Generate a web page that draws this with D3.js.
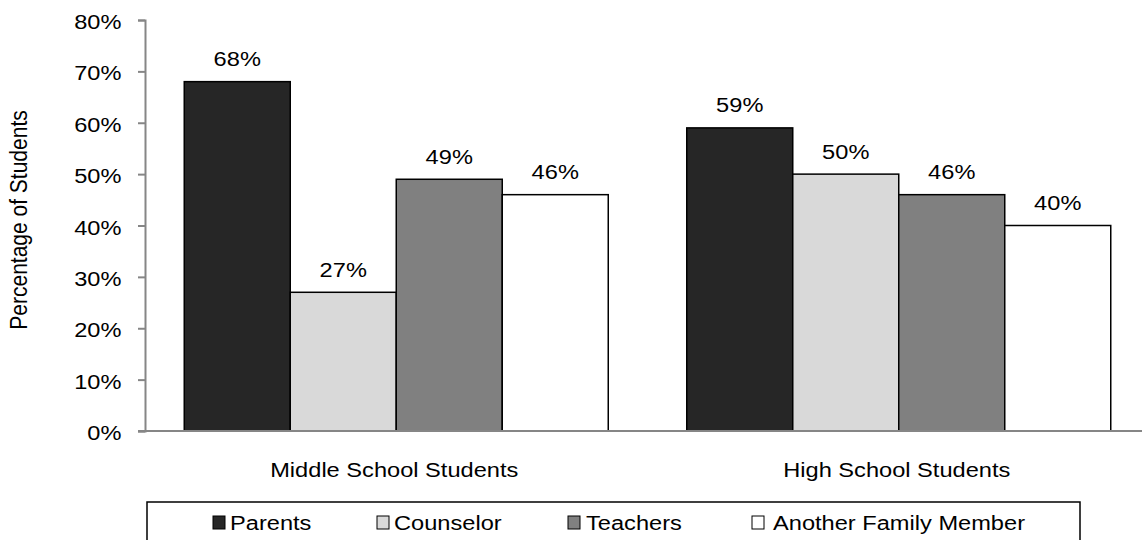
<!DOCTYPE html>
<html>
<head>
<meta charset="utf-8">
<script src="https://cdn.jsdelivr.net/npm/d3@7/dist/d3.min.js"></script>
<style>
  html, body { margin: 0; padding: 0; background: #fff; }
  svg text { font-family: "Liberation Sans", Arial, sans-serif; fill: #000; }
</style>
</head>
<body>
<svg id="chart" width="1142" height="540"></svg>
<script>
// Who students talk to, by school level (percent)
const groups = ["Middle School Students", "High School Students"];
const seriesNames = ["Parents", "Counselor", "Teachers", "Another Family Member"];
const seriesColors = ["#262626", "#d9d9d9", "#808080", "#ffffff"];
const parents = [68, 59];
const counselor = [27, 50];
const teachers = [49, 46];
const anotherFamily = [46, 40];
const yTicks = [0, 10, 20, 30, 40, 50, 60, 70, 80];

const seriesValues = [parents, counselor, teachers, anotherFamily];

const svg = d3.select("#chart");
const plotLeft = 145, plotRight = 1150, plotTop = 20, plotBottom = 431;
const fontSize = 21;
const widen = 1.125; // text is set slightly wide

const y = d3.scaleLinear().domain([0, 80]).range([plotBottom, plotTop]);
const x0 = d3.scaleBand().domain(groups).range([plotLeft, plotRight]).paddingInner(0).paddingOuter(0);
const barW = 106;
const x1 = d3.scaleBand().domain(seriesNames)
  .range([0, barW * seriesNames.length]);

const groupOffset = (x0.bandwidth() - barW * seriesNames.length) / 2;

// text helper: places a widened label anchored at (x, y)
function label(parent, x, yy, txt, anchor) {
  return parent.append("text")
    .attr("transform", `translate(${x},${yy}) scale(${widen},1)`)
    .attr("text-anchor", anchor || "start")
    .attr("font-size", fontSize)
    .text(txt);
}

// bars with value labels
const g = svg.append("g");
groups.forEach((grp, gi) => {
  seriesNames.forEach((s, si) => {
    const v = seriesValues[si][gi];
    const bx = x0(grp) + groupOffset + x1(s);
    g.append("rect")
      .attr("x", bx)
      .attr("y", y(v))
      .attr("width", x1.bandwidth())
      .attr("height", y(0) - y(v))
      .attr("fill", seriesColors[si])
      .attr("stroke", "#000")
      .attr("stroke-width", 1.5);
    label(g, bx + x1.bandwidth() / 2, y(v) - 15.5, v + "%", "middle");
  });
});

// y axis
const yAxis = d3.axisLeft(y).tickValues(yTicks).tickFormat(d => d + "%").tickSize(7).tickPadding(8);
const ya = svg.append("g").attr("transform", `translate(${plotLeft},0)`).call(yAxis);
ya.select(".domain").attr("stroke", "#868686").attr("stroke-width", 2);
ya.selectAll(".tick line").attr("stroke", "#868686").attr("stroke-width", 2);
ya.selectAll(".tick text")
  .attr("font-size", fontSize)
  .attr("x", null).attr("dy", null)
  .attr("transform", `translate(-23.5,8.5) scale(${widen},1)`)
  .style("font-family", "Liberation Sans, Arial, sans-serif");

// x axis baseline
svg.append("line")
  .attr("x1", plotLeft - 7).attr("x2", plotRight)
  .attr("y1", y(0)).attr("y2", y(0))
  .attr("stroke", "#868686").attr("stroke-width", 2);

// category labels
groups.forEach(grp => {
  label(svg, x0(grp) + x0.bandwidth() / 2 - 2, 477, grp, "middle");
});

// y axis title
svg.append("text")
  .attr("transform", `translate(27,220) scale(${widen},1) rotate(-90)`)
  .attr("text-anchor", "middle")
  .attr("font-size", fontSize)
  .text("Percentage of Students");

// legend
svg.append("rect")
  .attr("x", 147).attr("y", 502)
  .attr("width", 933).attr("height", 50)
  .attr("fill", "none").attr("stroke", "#000").attr("stroke-width", 1.5);

const legendSwatchX = [213, 377, 568, 752];
const legendTextX = [230, 394, 586, 773];
seriesNames.forEach((s, i) => {
  svg.append("rect")
    .attr("x", legendSwatchX[i]).attr("y", 516)
    .attr("width", 12).attr("height", 13)
    .attr("fill", seriesColors[i]).attr("stroke", "#000").attr("stroke-width", 1);
  label(svg, legendTextX[i], 530, s, "start");
});
</script>
</body>
</html>
